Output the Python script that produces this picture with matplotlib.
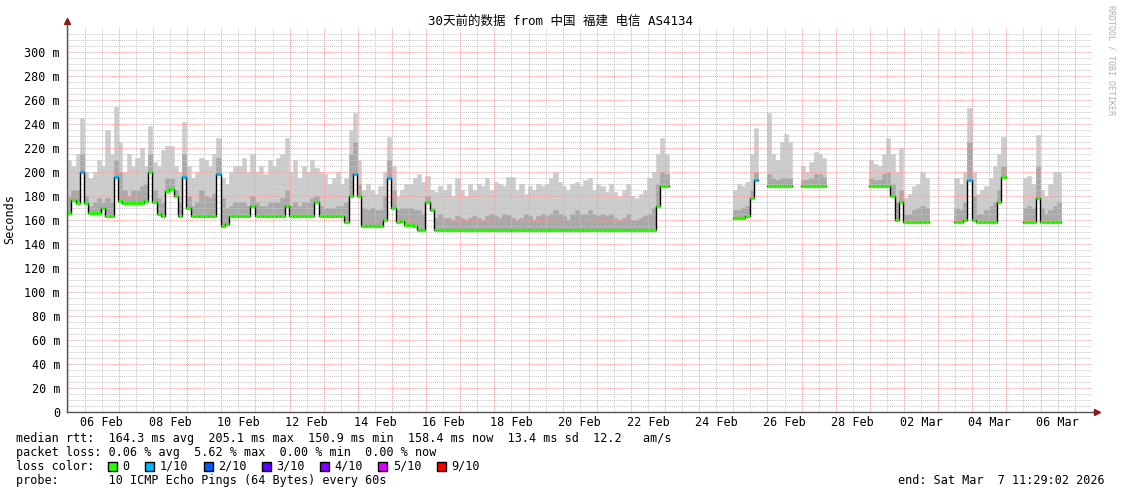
import numpy as np
import matplotlib
matplotlib.use('Agg')
import matplotlib.pyplot as plt
import matplotlib.dates as mdates
from matplotlib.ticker import FixedLocator, FuncFormatter, NullFormatter
from matplotlib.patches import Rectangle
from datetime import datetime

nan = np.nan
start = datetime(2026, 2, 5, 11, 29, 2)
bins_per_day = 8  # 3 hour steps

# median rtt (ms), one row per day, 8 x 3h
median_rtt = [
    166, 177, 174, 200, 174, 166, 166, 166,
    170, 163, 163, 196, 176, 174, 174, 174,
    174, 174, 176, 200, 175, 165, 163, 184,
    186, 180, 163, 196, 170, 163, 163, 163,
    163, 163, 163, 198, 155, 157, 163, 163,
    163, 163, 163, 172, 163, 163, 163, 163,
    163, 163, 163, 172, 163, 163, 163, 163,
    163, 163, 175, 163, 163, 163, 163, 163,
    163, 158, 180, 198, 180, 155, 155, 155,
    155, 155, 160, 195, 170, 158, 159.5, 156,
    156, 155, 152, 151.7, 175, 168, 151.5, 151.5,
    151.5, 151.5, 151.5, 151.5, 151.5, 151.5, 151.5, 151.5,
    151.5, 151.5, 151.5, 151.5, 151.5, 151.5, 151.5, 151.5,
    151.5, 151.5, 151.5, 151.5, 151.5, 151.5, 151.5, 151.5,
    151.5, 151.5, 151.5, 151.5, 151.5, 151.5, 151.5, 151.5,
    151.5, 151.5, 151.5, 151.5, 151.5, 151.5, 151.5, 151.5,
    151.5, 151.5, 151.5, 151.5, 151.5, 151.5, 151.5, 151.5,
    151.5, 151.5, 172, 188, 188, nan, nan, nan,
    nan, nan, nan, nan, nan, nan, nan, nan,
    nan, nan, nan, nan, 162, 162, 162, 163,
    178, 193, nan, nan, 188, 188, 188, 188,
    188, 188, nan, nan, 188, 188, 188, 188,
    188, 188, nan, nan, nan, nan, nan, nan,
    nan, nan, nan, nan, 188, 188, 188, 188,
    188, 180, 160, 175, 158.6, 158.6, 158.6, 158.6,
    158.6, 158.6, nan, nan, nan, nan, nan, nan,
    158.6, 158.6, 160, 193, 160, 158.6, 158.6, 158.6,
    158.6, 158.6, 175, 196, nan, nan, nan, nan,
    158.6, 158.6, 158.6, 178, 158.6, 158.6, 158.6, 158.6,
    158.6, nan, nan, nan, nan, nan, nan, nan,
]

# top of the light smoke (max ping)
smoke_max = [
    210, 205, 215, 245, 200, 195, 200, 210,
    205, 235, 215, 254, 225, 200, 215, 205,
    212, 220, 205, 238, 208, 205, 218, 222,
    222, 205, 200, 242, 205, 195, 200, 212,
    210, 205, 215, 228, 195, 190, 200, 205,
    205, 212, 200, 215, 200, 205, 198, 210,
    205, 212, 215, 228, 200, 210, 195, 205,
    200, 210, 203, 200, 198, 190, 195, 200,
    190, 195, 235, 249, 210, 185, 190, 185,
    182, 188, 200, 229, 205, 180, 185, 190,
    190, 195, 198, 192, 197, 185, 183, 188,
    185, 190, 180, 195, 185, 180, 190, 185,
    190, 188, 195, 185, 192, 190, 188, 196,
    196, 185, 190, 182, 188, 185, 190, 188,
    190, 195, 200, 192, 188, 185, 190, 192,
    188, 193, 195, 185, 190, 188, 183, 190,
    183, 180, 185, 190, 180, 178, 182, 185,
    195, 200, 215, 228, 215, nan, nan, nan,
    nan, nan, nan, nan, nan, nan, nan, nan,
    nan, nan, nan, nan, 185, 190, 188, 192,
    215, 237, nan, nan, 249, 215, 210, 225,
    232, 225, nan, nan, 205, 200, 208, 217,
    215, 212, nan, nan, nan, nan, nan, nan,
    nan, nan, nan, nan, 210, 207, 205, 215,
    228, 215, 200, 220, 178, 182, 188, 190,
    200, 195, nan, nan, nan, nan, nan, nan,
    195, 190, 200, 253, 200, 182, 185, 188,
    195, 205, 215, 229, nan, nan, nan, nan,
    195, 197, 190, 231, 185, 180, 190, 200,
    200, nan, nan, nan, nan, nan, nan, nan,
]

# top of the darker smoke
smoke_mid = [
    180, 185, 185, 215, 180, 172, 175, 178,
    175, 178, 175, 210, 200, 185, 180, 185,
    185, 188, 190, 215, 185, 178, 175, 195,
    195, 185, 175, 215, 180, 172, 175, 185,
    180, 178, 182, 212, 178, 170, 172, 175,
    175, 175, 172, 180, 175, 172, 172, 175,
    175, 175, 178, 185, 172, 175, 172, 175,
    175, 178, 180, 172, 170, 170, 170, 172,
    172, 175, 215, 225, 190, 170, 168, 170,
    168, 168, 180, 210, 185, 168, 170, 170,
    170, 168, 168, 165, 180, 170, 162, 165,
    162, 162, 160, 163, 162, 160, 162, 163,
    162, 160, 163, 165, 163, 162, 165, 164,
    162, 160, 162, 165, 163, 160, 163, 165,
    163, 165, 168, 165, 163, 160, 165, 168,
    165, 165, 168, 165, 163, 165, 163, 165,
    162, 160, 162, 165, 160, 160, 162, 163,
    165, 170, 190, 200, 198, nan, nan, nan,
    nan, nan, nan, nan, nan, nan, nan, nan,
    nan, nan, nan, nan, 168, 168, 170, 172,
    185, 200, nan, nan, 198, 195, 193, 195,
    195, 195, nan, nan, 193, 193, 195, 198,
    198, 196, nan, nan, nan, nan, nan, nan,
    nan, nan, nan, nan, 195, 193, 193, 198,
    200, 190, 175, 185, 165, 165, 168, 170,
    172, 170, nan, nan, nan, nan, nan, nan,
    170, 168, 175, 225, 180, 165, 165, 168,
    172, 175, 185, 205, nan, nan, nan, nan,
    170, 172, 170, 205, 170, 165, 168, 172,
    175, nan, nan, nan, nan, nan, nan, nan,
]

# 3h steps that saw 1/10 packet loss
loss_steps = [3, 11, 27, 35, 67, 75, 161, 211]

loss_colors = ['#26ff00', '#00b8ff', '#0059ff', '#5e00ff', '#7e00ff', '#dd00ff', '#ff0000']
loss_labels = ['0', '1/10', '2/10', '3/10', '4/10', '5/10', '9/10']

title = '30天前的数据 from 中国 福建 电信 AS4134'
stats = [
    'median rtt:  164.3 ms avg  205.1 ms max  150.9 ms min  158.4 ms now  13.4 ms sd  12.2   am/s',
    'packet loss: 0.06 % avg  5.62 % max  0.00 % min  0.00 % now',
    'loss color:',
    'probe:       10 ICMP Echo Pings (64 Bytes) every 60s',
]
end_text = 'end: Sat Mar  7 11:29:02 2026'

mono = ['DejaVu Sans Mono', 'Noto Sans CJK SC']
plt.rcParams['font.family'] = mono
fs = 8.5

W, H = 1121, 494
fig = plt.figure(figsize=(W / 100, H / 100), dpi=100)
fig.patch.set_facecolor('white')
ax = fig.add_axes([67 / W, (H - 412) / H, (1091 - 67) / W, (412 - 28) / H])

med = np.array(median_rtt, dtype=float)
smax = np.array(smoke_max, dtype=float)
smid = np.array(smoke_mid, dtype=float)
dt = 1.0 / bins_per_day
x = mdates.date2num(start) + np.arange(len(med)) * dt
ok = ~np.isnan(med)

ax.bar(x[ok], smax[ok] - med[ok], bottom=med[ok], width=dt, align='edge',
       color='#cccccc', edgecolor='#cccccc', lw=0.4, zorder=1)
ax.bar(x[ok], smid[ok] - med[ok], bottom=med[ok], width=dt, align='edge',
       color='#a9a9a9', edgecolor='#a9a9a9', lw=0.4, zorder=1.1)

ax.step(np.append(x, x[-1] + dt), np.append(med, med[-1]), where='post',
        color='black', lw=1.0, zorder=3)
cols = np.array([loss_colors[0]] * len(med), dtype=object)
cols[loss_steps] = loss_colors[1]
ax.hlines(med[ok], x[ok], x[ok] + dt, colors=list(cols[ok]), lw=2.3, zorder=4)

ax.set_xlim(mdates.date2num(start), mdates.date2num(start) + 30)
ax.set_ylim(0, 320)

ax.xaxis.set_major_locator(mdates.DayLocator())
ax.xaxis.set_minor_locator(mdates.HourLocator(byhour=[12]))
ax.xaxis.set_major_formatter(NullFormatter())


def day_label(v, pos):
    d = mdates.num2date(v)
    return d.strftime('%d %b') if d.day % 2 == 0 else ''


ax.xaxis.set_minor_formatter(FuncFormatter(day_label))
ax.yaxis.set_major_locator(FixedLocator(list(range(0, 301, 20))))
ax.yaxis.set_minor_locator(FixedLocator([v for v in range(0, 316, 5) if v % 20]))
ax.yaxis.set_major_formatter(FuncFormatter(lambda v, p: '0' if v == 0 else '%d m' % v))
ax.tick_params(axis='x', which='both', length=0, pad=3, labelsize=fs)
ax.tick_params(axis='y', which='both', length=0, pad=5, labelsize=fs)

ax.set_axisbelow(False)
ax.grid(which='major', color='#f49a9a', linestyle=(0, (1, 1)), lw=0.7)
ax.grid(which='minor', color='#c4c4c4', linestyle=(0, (1, 1)), lw=0.7)
for s in ax.spines.values():
    s.set_visible(False)

# axes with arrow heads
top = (412 - 21) / (412 - 28)
right = (1097 - 67) / (1091 - 67)
ax.plot([0, 0], [0, top], transform=ax.transAxes, color='#555555', lw=1, clip_on=False, zorder=5)
ax.plot([0, right], [0, 0], transform=ax.transAxes, color='#555555', lw=1, clip_on=False, zorder=5)
ax.plot([0], [top], marker='^', ms=4, color='#8b1a1a', transform=ax.transAxes, clip_on=False, zorder=6)
ax.plot([right], [0], marker='>', ms=4, color='#8b1a1a', transform=ax.transAxes, clip_on=False, zorder=6)

fig.text(560 / W, (H - 21) / H, title, ha='center', va='center', fontsize=9, family=mono)
fig.text(10 / W, (H - 219) / H, 'Seconds', rotation=90, ha='center', va='center', fontsize=fs)
fig.text(1111 / W, (H - 60) / H, 'RRDTOOL / TOBI OETIKER', rotation=270, ha='center', va='center',
         fontsize=6, color='#b0b0b0')

row_y = [438, 452, 466, 480]
for txt, yy in zip(stats, row_y):
    fig.text(16 / W, (H - yy) / H, txt, ha='left', va='center', fontsize=fs)
fig.text(1105 / W, (H - 480) / H, end_text, ha='right', va='center', fontsize=fs)

# loss color boxes
cw = fs * 100 / 72 * 0.602
col = 13
for c, lab in zip(loss_colors, loss_labels):
    bx = 16 + col * cw
    fig.patches.append(Rectangle((bx / W, (H - 470.5) / H), 9 / W, 9 / H, transform=fig.transFigure,
                                 facecolor=c, edgecolor='black', lw=1))
    fig.text((16 + (col + 2) * cw) / W, (H - 466) / H, lab, ha='left', va='center', fontsize=fs)
    col += 4.2 + len(lab)

fig.savefig('out.png', dpi=100)
